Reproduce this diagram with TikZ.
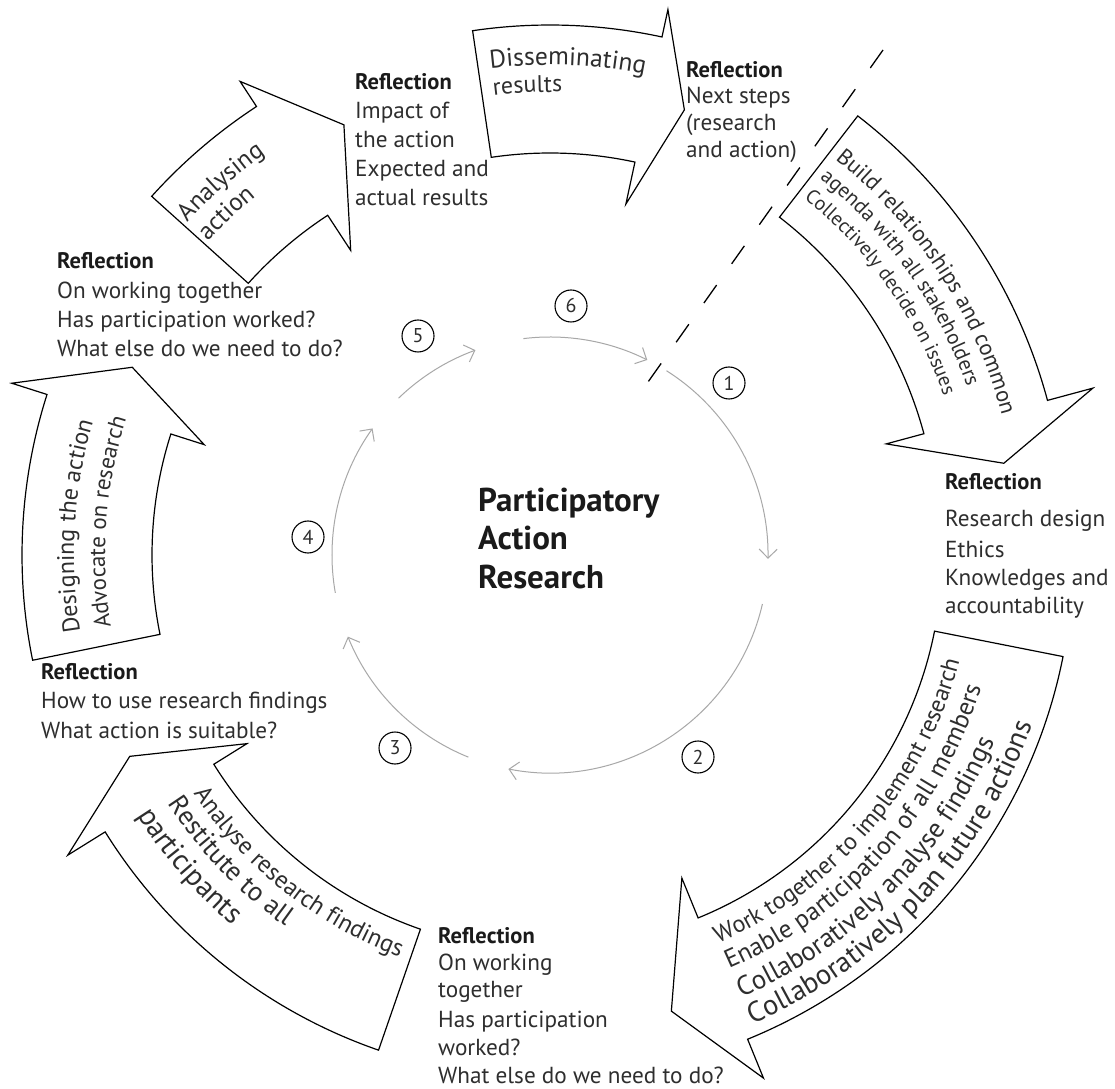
\documentclass[tikz,border=0pt]{standalone}
\usepackage{fontspec}
\setmainfont{PT Sans}
\usetikzlibrary{arrows.meta,decorations.text}
\definecolor{txt}{HTML}{2E2E2E}
\definecolor{hdr}{HTML}{1A1A1A}
\definecolor{cyc}{HTML}{A8A8A8}
\newcommand\fs[1]{\fontsize{#1}{#1}\selectfont}
\newcommand\arctext[4]{% radius, start, end, text
  \path[decorate,decoration={text along path,text={#4},text align=left}]
    (#2:#1pt) arc[start angle=#2,end angle=#3,radius=#1pt];}
\tikzset{
  blk/.style={draw=black,line width=1.2pt,fill=white},
  cycarc/.style={draw=cyc,line width=1pt,-{Straight Barb[length=9pt,width=18pt]}},
  num/.style={circle,draw=black,line width=1.1pt,minimum size=32pt,inner sep=0pt,font=\fs{20},text=txt},
  tl/.style={anchor=base west,inner sep=0pt,font=\fs{23.2},text=txt},
  rh/.style={anchor=base west,inner sep=0pt,font=\fs{22.5}\bfseries,text=hdr},
  ttl/.style={anchor=base west,inner sep=0pt,font=\fs{33}\bfseries,text=hdr},
  dsh/.style={draw=black,line width=1.3pt,dash pattern=on 22pt off 26pt},
}
\begin{document}
\begin{tikzpicture}[x=1pt,y=1pt]
\useasboundingbox (0,0) rectangle (1115,1088);
\fill[white] (0,0) rectangle (1115,1088);

% ---------- big block arrows (centre 550,533) ----------
\begin{scope}[shift={(550,533)}]
  % Analysing action
  \draw[blk] (138:536pt) arc[start angle=138,end angle=123.2,radius=536pt]
    -- (123.2:566pt) -- (115.6:477pt) -- (123.2:364pt) -- (123.2:406pt)
    arc[start angle=123.2,end angle=138,radius=406pt] -- cycle;
  % Disseminating results
  \draw[blk] (98.4:530pt) arc[start angle=98.4,end angle=77.8,radius=530pt]
    -- (77.8:558pt) -- (73.2:465pt) -- (77.8:359pt) -- (77.8:402pt)
    arc[start angle=77.8,end angle=98.4,radius=402pt] -- cycle;
  % Work together
  \draw[blk] (-11.2:523pt) arc[start angle=-11.2,end angle=-67.8,radius=523pt]
    -- (-67.8:565pt) -- (-75.1:472pt) -- (-67.8:349pt) -- (-67.8:392pt)
    arc[start angle=-67.8,end angle=-11.2,radius=392pt] -- cycle;
  % Analyse research findings
  \draw[blk] (250.9:524pt) arc[start angle=250.9,end angle=211.9,radius=524pt]
    -- (211.9:568pt) -- (205.6:466pt) -- (211.9:357pt) -- (211.9:396pt)
    arc[start angle=211.9,end angle=250.9,radius=396pt] -- cycle;
  % Designing the action
  \draw[blk] (191.5:528pt) arc[start angle=191.5,end angle=162.3,radius=528pt]
    -- (162.3:565pt) -- (155.8:458pt) -- (162.3:363pt) -- (162.3:398pt)
    arc[start angle=162.3,end angle=191.5,radius=398pt] -- cycle;

  % texts
  \arctext{492}{137.5}{100}{|\color{txt}\fs{25}|Analysing}
  \arctext{464}{137.5}{100}{|\color{txt}\fs{25}|action}
  \arctext{490}{97}{60}{|\color{txt}\fs{25.5}|Disseminating}
  \arctext{463}{97}{60}{|\color{txt}\fs{24}|results}
  \arctext{423}{-66.6}{0}{|\color{txt}\fs{24}|Work together to implement research}
  \arctext{451}{-66.6}{0}{|\color{txt}\fs{25.5}|Enable participation of all members}
  \arctext{482}{-66.6}{0}{|\color{txt}\fs{27}|Collaboratively analyse findings}
  \arctext{511}{-66.6}{0}{|\color{txt}\fs{28.5}|Collaboratively plan future actions}
  \arctext{429}{213.8}{265}{|\color{txt}\fs{24.5}|Analyse research findings}
  \arctext{456}{213.0}{265}{|\color{txt}\fs{27}|Restitute to all}
  \arctext{488}{212.2}{265}{|\color{txt}\fs{29}|participants}
  \arctext{476}{189.3}{150}{|\color{txt}\fs{24}|Designing the action}
  \arctext{445}{189.3}{150}{|\color{txt}\fs{23}|Advocate on research}

  % central cycle
  \draw[cycarc] (97:218pt) arc[start angle=97,end angle=63.5,radius=218pt];
  \draw[cycarc] (57.7:218pt) arc[start angle=57.7,end angle=-1,radius=218pt];
  \draw[cycarc] (-13:218pt) arc[start angle=-13,end angle=-101,radius=218pt];
  \draw[cycarc] (-112:218pt) arc[start angle=-112,end angle=-158,radius=218pt];
  \draw[cycarc] (-170:218pt) arc[start angle=-170,end angle=-215.5,radius=218pt];
  \draw[cycarc] (134:218pt) arc[start angle=134,end angle=110,radius=218pt];
\end{scope}

% Build relationships (own centre)
\begin{scope}[shift={(530,548)}]
  \draw[blk] (52.3:536pt) arc[start angle=52.3,end angle=15.1,radius=536pt]
    -- (15.1:583pt) -- (9.2:480pt) -- (15.1:369pt) -- (15.1:408pt)
    arc[start angle=15.1,end angle=52.3,radius=408pt] -- cycle;
  \arctext{488}{51.3}{0}{|\color{txt}\fs{22.5}|Build relationships and common}
  \arctext{463}{51.3}{0}{|\color{txt}\fs{21}|agenda with all stakeholders}
  \arctext{438}{51.3}{0}{|\color{txt}\fs{20}|Collectively decide on issues}
\end{scope}

% dashed separator
\coordinate (d1) at (883,1038);
\coordinate (d2) at (648,706);
\draw[dsh] (d1) -- (d2);

% numbers
\node[num] (n1) at (729,705) {1};
\node[num] (n2) at (698,331) {2};
\node[num] (n3) at (395,340) {3};
\node[num] (n4) at (308,551) {4};
\node[num] (n5) at (418,752) {5};
\node[num] (n6) at (571,782) {6};

% title
\node[ttl] (t1) at (478,576) {Participatory};
\node[ttl] (t2) at (478,538) {Action};
\node[ttl] (t3) at (478,500) {Research};

% reflection A
\node[rh] (a0) at (355,998) {Reflection};
\node[tl] (a1) at (355,969) {Impact of};
\node[tl] (a2) at (355,940) {the action};
\node[tl] (a3) at (355,911) {Expected and};
\node[tl] (a4) at (355,882) {actual results};
% reflection B
\node[rh] (b0) at (686,1010) {Reflection};
\node[tl] (b1) at (686,984) {Next steps};
\node[tl] (b2) at (686,957) {(research};
\node[tl] (b3) at (686,930) {and action)};
% reflection C
\node[rh] (c0) at (945,598) {Reflection};
\node[tl] (c1) at (945,561) {Research design};
\node[tl] (c2) at (945,531) {Ethics};
\node[tl] (c3) at (945,503) {Knowledges and};
\node[tl] (c4) at (945,475) {accountability};
% reflection D
\node[rh] (e0) at (57,819) {Reflection};
\node[tl] (e1) at (57,789) {On working together};
\node[tl] (e2) at (57,760) {Has participation worked?};
\node[tl] (e3) at (57,731) {What else do we need to do?};
% reflection E
\node[rh] (f0) at (41,409) {Reflection};
\node[tl] (f1) at (41,380) {How to use research findings};
\node[tl] (f2) at (41,350) {What action is suitable?};
% reflection F
\node[rh] (g0) at (438,145) {Reflection};
\node[tl] (g1) at (438,118) {On working};
\node[tl] (g2) at (438,91) {together};
\node[tl] (g3) at (438,61) {Has participation};
\node[tl] (g4) at (438,33) {worked?};
\node[tl] (g5) at (438,5) {What else do we need to do?};
\end{tikzpicture}
\end{document}
